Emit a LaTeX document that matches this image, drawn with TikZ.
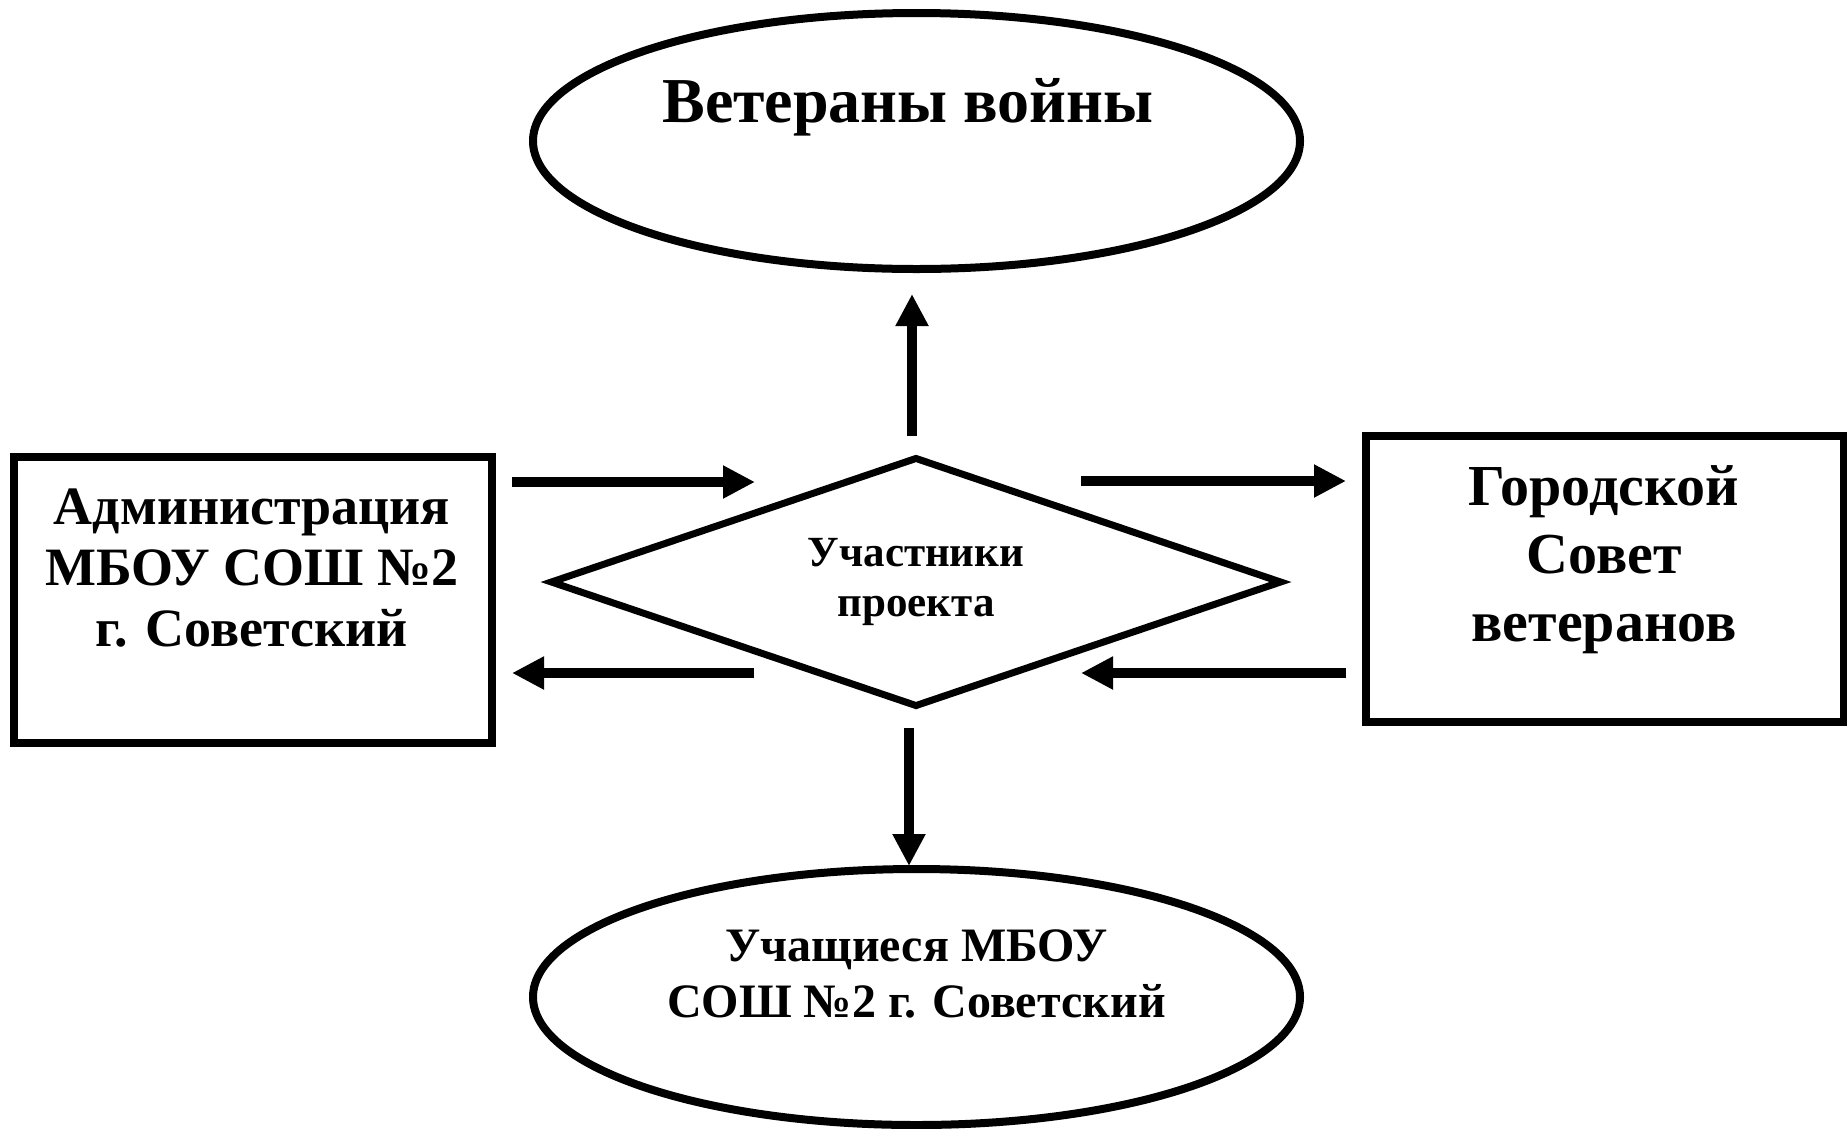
\documentclass[tikz,border=0pt]{standalone}
\usepackage{fontspec}
\setmainfont{Liberation Serif}
\usetikzlibrary{shapes.geometric,arrows.meta}
\begin{document}
\begin{tikzpicture}[x=1pt,y=-1pt,
  oval/.style={draw, ellipse, line width=8pt, minimum width=767pt, minimum height=256pt, inner sep=0pt},
  boxnode/.style={draw, rectangle, line width=8pt, minimum width=478pt, minimum height=286pt, inner sep=0pt},
  dianode/.style={draw, diamond, aspect=3, line width=7pt, minimum width=732pt, minimum height=250pt, inner sep=0pt, align=center, font=\bfseries\fontsize{43}{50}\selectfont},
  txt/.style={inner sep=0pt, align=center},
  arr/.style={line width=10.5pt, -{Triangle[length=32pt,width=31pt]}}
]
\useasboundingbox[fill=white] (0,0) rectangle (1847,1128);

\node[oval] (vet) at (916.5,141) {};
\node[txt, anchor=base, font=\bfseries\fontsize{64}{70}\selectfont] (vett) at (908,122) {Ветераны войны};

\node[oval] (uch) at (916.5,997) {};
\node[txt, font=\bfseries\fontsize{48}{56}\selectfont] (ucht) at (916.5,974) {Учащиеся МБОУ\\СОШ №2 г. Советский};

\node[boxnode] (adm) at (253,600) {};
\node[txt, font=\bfseries\fontsize{54}{61}\selectfont] (admt) at (252,568) {Администрация\\МБОУ СОШ №2\\г. Советский};

\node[boxnode] (gor) at (1604.5,579) {};
\node[txt, font=\bfseries\fontsize{58}{68}\selectfont] (gort) at (1604,560) {Городской\\Совет\\ветеранов};

\node[dianode] (dia) at (916,582) {Участники\\проекта};

\coordinate (up1) at (912,436);
\coordinate (up2) at (912,294);
\coordinate (dn1) at (909,728);
\coordinate (dn2) at (909,866);
\coordinate (la1) at (512,482);
\coordinate (la2) at (755,482);
\coordinate (lb1) at (754,673);
\coordinate (lb2) at (512,673);
\coordinate (ra1) at (1081,481);
\coordinate (ra2) at (1346,481);
\coordinate (rb1) at (1346,673);
\coordinate (rb2) at (1081,673);

\draw[arr] (up1) -- (up2);
\draw[arr] (dn1) -- (dn2);
\draw[arr] (la1) -- (la2);
\draw[arr] (lb1) -- (lb2);
\draw[arr] (ra1) -- (ra2);
\draw[arr] (rb1) -- (rb2);
\end{tikzpicture}
\end{document}
